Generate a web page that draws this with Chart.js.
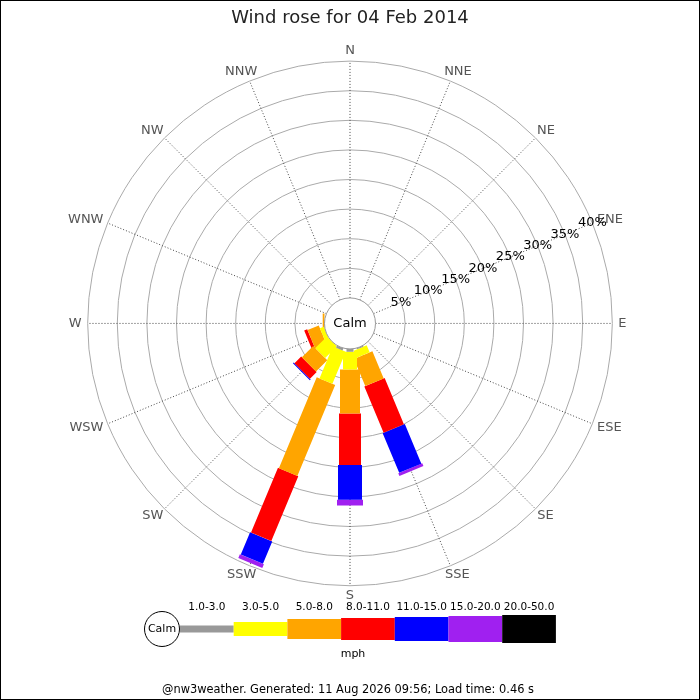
<!DOCTYPE html>
<html>
<head>
<meta charset="utf-8">
<title>Wind rose</title>
<script src="https://cdn.jsdelivr.net/npm/chart.js@4.4.1/dist/chart.umd.min.js"></script>
<style>
    html, body { margin: 0; padding: 0; background: #fff; }
    #wrap { width: 700px; height: 700px; }
</style>
</head>
<body>
<div id="wrap"><canvas id="roseChart" width="700" height="700"></canvas></div>
<script>
// directions, clockwise from north
var directions = ['N', 'NNE', 'NE', 'ENE', 'E', 'ESE', 'SE', 'SSE',
                  'S', 'SSW', 'SW', 'WSW', 'W', 'WNW', 'NW', 'NNW'];

// speed classes (mph) and their colours
var speedClasses = ['1.0-3.0', '3.0-5.0', '5.0-8.0', '8.0-11.0', '11.0-15.0', '15.0-20.0', '20.0-50.0'];
var classColors = ['#999999', '#ffff00', '#ffa500', '#ff0000', '#0000ff', '#a020f0', '#000000'];

// percent of time per direction, one array per speed class
var pct1to3   = [0, 0, 0, 0, 0, 0, 0, 0.2, 0.5, 0.4,  0,   0,    0,   0, 0, 0];
var pct3to5   = [0, 0, 0, 0, 0, 0, 0, 1.3, 3.0, 5.9,  2.8, 0.7,  0,   0, 0, 0];
var pct5to8   = [0, 0, 0, 0, 0, 0, 0, 5.0, 7.5, 16.7, 2.7, 2.05, 0.3, 0, 0, 0];
var pct8to11  = [0, 0, 0, 0, 0, 0, 0, 8.5, 8.7, 11.9, 1.6, 0.55, 0,   0, 0, 0];
var pct11to15 = [0, 0, 0, 0, 0, 0, 0, 7.3, 5.9, 4.1,  0.2, 0,    0,   0, 0, 0];
var pct15to20 = [0, 0, 0, 0, 0, 0, 0, 0.5, 1.0, 0.7,  0,   0,    0,   0, 0, 0];
var pct20to50 = [0, 0, 0, 0, 0, 0, 0, 0,   0,   0,    0,   0,    0,   0, 0, 0];

// ring values and their tick labels
var ringValues = [5, 10, 15, 20, 25, 30, 35, 40];
var ringLabels = ['5%', '10%', '15%', '20%', '25%', '30%', '35%', '40%'];

var classValues = [pct1to3, pct3to5, pct5to8, pct8to11, pct11to15, pct15to20, pct20to50];
var barWidths = [7, 14, 20, 22, 24, 26, 28];
var calmOffset = 4.31; // radius of the calm circle, in percent units

var FONT = "'DejaVu Sans', sans-serif";

function angleOf(i) {
    return i * Math.PI * 2 / directions.length;
}

// build one line dataset per speed class, bars separated by gaps
var cum = directions.map(function () { return 0; });
var datasets = classValues.map(function (vals, c) {
    var pts = [];
    vals.forEach(function (v, d) {
        if (!v) return;
        var a = angleOf(d);
        var r0 = calmOffset + cum[d];
        var r1 = r0 + v;
        pts.push({x: r0 * Math.sin(a), y: r0 * Math.cos(a)});
        pts.push({x: r1 * Math.sin(a), y: r1 * Math.cos(a)});
        pts.push({x: 0, y: null});
        cum[d] += v;
    });
    return {
        label: speedClasses[c],
        data: pts,
        showLine: true,
        spanGaps: false,
        borderColor: classColors[c],
        backgroundColor: classColors[c],
        borderWidth: barWidths[c],
        borderCapStyle: 'butt',
        pointRadius: 0,
        clip: false
    };
});

var rosePlugin = {
    id: 'rose',
    beforeDatasetsDraw: function (chart) {
        var ctx = chart.ctx;
        var xs = chart.scales.x, ys = chart.scales.y;
        var cx = xs.getPixelForValue(0), cy = ys.getPixelForValue(0);
        var px = function (r) { return xs.getPixelForValue(r) - cx; };
        var outer = px(calmOffset + ringValues[ringValues.length - 1]);
        var inner = px(calmOffset);
        ctx.save();
        // rings
        ctx.strokeStyle = '#aaaaaa';
        ctx.lineWidth = 1;
        ringValues.forEach(function (v) {
            ctx.beginPath();
            ctx.arc(cx, cy, px(calmOffset + v), 0, Math.PI * 2);
            ctx.stroke();
        });
        // spokes
        ctx.strokeStyle = '#444444';
        ctx.setLineDash([1, 2]);
        directions.forEach(function (d, i) {
            var a = angleOf(i);
            ctx.beginPath();
            ctx.moveTo(cx + inner * Math.sin(a), cy - inner * Math.cos(a));
            ctx.lineTo(cx + outer * Math.sin(a), cy - outer * Math.cos(a));
            ctx.stroke();
        });
        ctx.setLineDash([]);
        // direction labels
        ctx.font = '13px ' + FONT;
        ctx.fillStyle = '#555555';
        ctx.textAlign = 'center';
        ctx.textBaseline = 'middle';
        directions.forEach(function (d, i) {
            var a = angleOf(i);
            var hw = ctx.measureText(d).width / 2;
            var x = cx + (outer + 6 + hw) * Math.sin(a);
            var y = cy - (outer + 10) * Math.cos(a);
            ctx.fillText(d, x, y);
        });
        ctx.restore();
    },
    afterDatasetsDraw: function (chart) {
        var ctx = chart.ctx;
        var xs = chart.scales.x, ys = chart.scales.y;
        var cx = xs.getPixelForValue(0), cy = ys.getPixelForValue(0);
        var px = function (r) { return xs.getPixelForValue(r) - cx; };
        ctx.save();
        // calm circle
        ctx.beginPath();
        ctx.arc(cx, cy, px(calmOffset), 0, Math.PI * 2);
        ctx.fillStyle = '#ffffff';
        ctx.fill();
        ctx.strokeStyle = '#999999';
        ctx.lineWidth = 1;
        ctx.stroke();
        ctx.fillStyle = '#000000';
        ctx.font = '13px ' + FONT;
        ctx.textAlign = 'center';
        ctx.textBaseline = 'middle';
        ctx.fillText('Calm', cx, cy);
        // ring labels along ENE
        var a = angleOf(3);
        ringValues.forEach(function (v, i) {
            var r = px(calmOffset + v);
            ctx.fillText(ringLabels[i], cx + r * Math.sin(a), cy - r * Math.cos(a));
        });
        ctx.restore();
    },
    afterDraw: function (chart) {
        var ctx = chart.ctx;
        ctx.save();
        // legend
        var lx = 180, ly = 629, bw = 53.7;
        ctx.beginPath();
        ctx.arc(162, ly, 17.5, 0, Math.PI * 2);
        ctx.fillStyle = '#ffffff';
        ctx.fill();
        ctx.strokeStyle = '#000000';
        ctx.lineWidth = 1;
        ctx.stroke();
        ctx.fillStyle = '#000000';
        ctx.font = '11px ' + FONT;
        ctx.textAlign = 'center';
        ctx.textBaseline = 'middle';
        ctx.fillText('Calm', 162, ly);
        ctx.font = '10.5px ' + FONT;
        speedClasses.forEach(function (s, i) {
            var h = barWidths[i];
            ctx.fillStyle = classColors[i];
            ctx.fillRect(lx + bw * i, ly - h / 2, bw, h);
            ctx.fillStyle = '#000000';
            ctx.fillText(s, lx + bw * i + bw / 2, 607);
        });
        ctx.font = '11px ' + FONT;
        ctx.fillText('mph', 353, 654);
        ctx.font = '11.4px ' + FONT;
        ctx.fillText('@nw3weather. Generated: 11 Aug 2026 09:56; Load time: 0.46 s', 348, 690);
        // frame
        ctx.strokeStyle = '#000000';
        ctx.lineWidth = 1;
        ctx.strokeRect(0.5, 0.5, 699, 699);
        ctx.restore();
    }
};

var ctx = document.getElementById('roseChart').getContext('2d');
var roseChart = new Chart(ctx, {
    type: 'scatter',
    data: { datasets: datasets },
    options: {
        responsive: false,
        animation: false,
        events: [],
        layout: { padding: { left: 54, right: 54, top: 0, bottom: 82 } },
        scales: {
            x: { type: 'linear', min: -50, max: 50, display: false },
            y: { type: 'linear', min: -50, max: 49.6, display: false }
        },
        plugins: {
            legend: { display: false },
            tooltip: { enabled: false },
            title: {
                display: true,
                text: 'Wind rose for 04 Feb 2014',
                color: '#222222',
                font: { family: FONT, size: 18, weight: 'normal' },
                padding: { top: 7.6, bottom: 2 }
            }
        }
    },
    plugins: [rosePlugin]
});
</script>
</body>
</html>
